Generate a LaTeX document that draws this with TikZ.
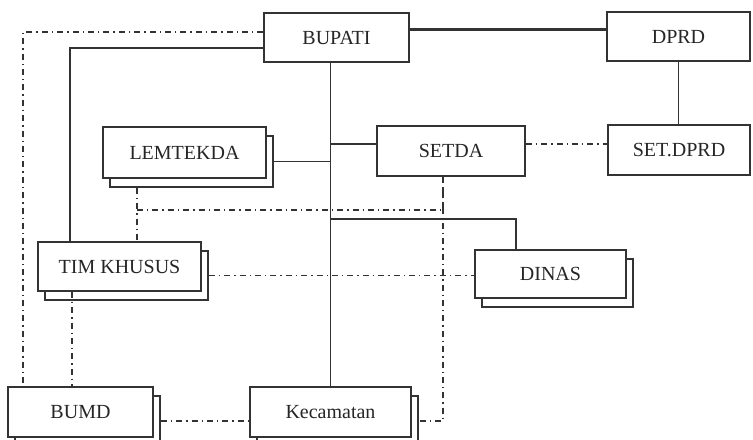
\documentclass[tikz,border=0pt]{standalone}
\usepackage{fontspec}
\setmainfont{Liberation Serif}
\usetikzlibrary{positioning, calc}

\begin{document}
\begin{tikzpicture}[x=0.5pt, y=-0.5pt,
                unit/.style={draw=black!80, fill=white, line width=0.7pt, text=black!85,
                             font=\normalsize, inner sep=0pt, minimum height=25pt},
                link/.style={draw=black!80, line width=0.7pt},
                coord/.style={draw=black!80, line width=0.7pt, dashdotted}]

                \useasboundingbox (0,0) rectangle (753,439);

                % Top level
                \node[unit, minimum width=72.5pt, minimum height=24.5pt] (bupati) at (336.5,37.5) {BUPATI};
                \node[unit, minimum width=71.5pt, minimum height=24.5pt] (dprd) at (678.5,36.5) {DPRD};

                % Secretariats
                \node[unit, minimum width=74pt] (setda) at (451,151) {SETDA};
                \node[unit, minimum width=71pt] (setdprd) at (679,150) {SET.DPRD};

                % Stacked units - back sheet first, front sheet on top
                \node[unit, minimum width=81.5pt, minimum height=25.5pt] (lemtekdab) at (191.5,161.5) {};
                \node[unit, minimum width=81.5pt, minimum height=25.5pt] (lemtekda) at ([shift={(-7,-9)}]lemtekdab) {LEMTEKDA};

                \node[unit, minimum width=81.5pt, minimum height=24.5pt] (timkhusub) at (126.5,275.5) {};
                \node[unit, minimum width=81.5pt, minimum height=24.5pt] (timkhusus) at ([shift={(-7,-9)}]timkhusub) {TIM KHUSUS};

                \node[unit, minimum width=75.5pt, minimum height=24pt] (dinasb) at (557.5,283) {};
                \node[unit, minimum width=75.5pt, minimum height=24pt] (dinas) at ([shift={(-7,-9)}]dinasb) {DINAS};

                \node[unit, minimum width=72.5pt] (bumdb) at (87.5,421) {};
                \node[unit, minimum width=72.5pt] (bumd) at ([shift={(-7,-9)}]bumdb) {BUMD};

                \node[unit, minimum width=80.5pt] (kecamatanb) at (337.5,421) {};
                \node[unit, minimum width=80.5pt] (kecamatan) at ([shift={(-7,-9)}]kecamatanb) {Kecamatan};

                % Junction points
                \coordinate (fork) at (330.5,219);
                \coordinate (cross) at (137,210);

                % Command lines
                \draw[link, line width=1.4pt] ([yshift=4pt]bupati.east) -- ([yshift=4pt]bupati.east -| dprd.west);
                \draw[link] (dprd.south) -- (dprd.south |- setdprd.north);
                \draw[link] (bupati.south -| kecamatan.north) -- (kecamatan.north);
                \draw[link] ([yshift=3.5pt]setda.west) -- ([yshift=3.5pt]setda.west -| kecamatan.north);
                \draw[link] (lemtekdab.east) -- (lemtekdab.east -| kecamatan.north);
                \draw[link] (fork) -| ([xshift=-17.25pt]dinas.north);
                \draw[link] ([yshift=-5.25pt]bupati.west) -| ([xshift=-24.75pt]timkhusus.north);

                % Coordination lines
                \draw[coord] ([yshift=2.75pt]bupati.west) -| ([xshift=-28.75pt]bumd.north);
                \draw[coord] ([yshift=3.5pt]setda.east) -- ([yshift=3.5pt]setda.east -| setdprd.west);
                \draw[coord] ([xshift=-27.25pt]lemtekdab.south) -- ([xshift=-27.25pt]lemtekdab.south |- timkhusus.north);
                \draw[coord] (cross) -| ([xshift=-4pt]setda.south);
                \draw[coord] ([xshift=-4pt]setda.south) |- (kecamatanb.east);
                \draw[coord] (timkhusub.east) -- (timkhusub.east -| dinas.west);
                \draw[coord] ([xshift=-23.75pt]timkhusus.south) -- ([xshift=-23.75pt]timkhusus.south |- bumd.north);
                \draw[coord] (bumdb.east) -- (bumdb.east -| kecamatan.west);
\end{tikzpicture}
\end{document}
